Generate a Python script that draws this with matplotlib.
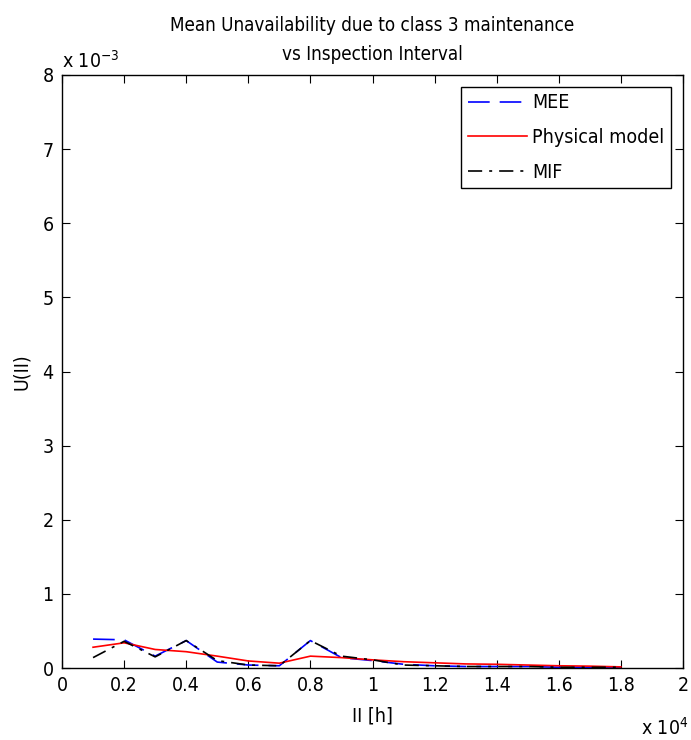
import matplotlib
matplotlib.use("Agg")
import matplotlib.pyplot as plt
from matplotlib.ticker import FuncFormatter, MultipleLocator

plt.rcParams['font.family'] = ['DejaVu Sans']
plt.rcParams['font.stretch'] = 'condensed'

ii = [1000, 2000, 3000, 4000, 5000, 6000, 7000, 8000, 9000, 10000,
      11000, 12000, 13000, 14000, 15000, 16000, 17000, 18000]
mee = [0.39e-3, 0.38e-3, 0.16e-3, 0.37e-3, 0.08e-3, 0.04e-3, 0.03e-3, 0.37e-3, 0.14e-3, 0.10e-3,
       0.05e-3, 0.03e-3, 0.02e-3, 0.02e-3, 0.02e-3, 0.01e-3, 0.01e-3, 0.01e-3]
phys = [0.28e-3, 0.34e-3, 0.25e-3, 0.22e-3, 0.16e-3, 0.095e-3, 0.065e-3, 0.16e-3, 0.14e-3, 0.11e-3,
        0.085e-3, 0.07e-3, 0.055e-3, 0.05e-3, 0.04e-3, 0.03e-3, 0.025e-3, 0.015e-3]
mif = [0.14e-3, 0.36e-3, 0.15e-3, 0.37e-3, 0.10e-3, 0.04e-3, 0.03e-3, 0.37e-3, 0.16e-3, 0.11e-3,
       0.04e-3, 0.03e-3, 0.02e-3, 0.02e-3, 0.02e-3, 0.01e-3, 0.01e-3, 0.01e-3]

fig = plt.figure(figsize=(6.91, 7.40), dpi=100)
ax = fig.add_axes([62/691, 1-668/740, (683-62)/691, (668-75)/740])

ax.plot(ii, mee, color='blue', linestyle=(0, (13, 6)), lw=1.2, label='MEE')
ax.plot(ii, phys, color='red', linestyle='-', lw=1.2, label='Physical model')
ax.plot(ii, mif, color='black', linestyle=(0, (8.5, 4.2, 1.8, 4.2)), lw=1.2, label='MIF')

ax.set_xlim(0, 20000)
ax.set_ylim(0, 8e-3)
ax.xaxis.set_major_locator(MultipleLocator(2000))
ax.yaxis.set_major_locator(MultipleLocator(1e-3))
ax.xaxis.set_major_formatter(FuncFormatter(lambda v, p: f"{v/1e4:g}"))
ax.yaxis.set_major_formatter(FuncFormatter(lambda v, p: f"{v/1e-3:g}"))
ax.tick_params(direction='in', top=True, right=True, labelsize=14, length=6, pad=6)
for s in ax.spines.values():
    s.set_linewidth(1.0)

ax.set_xlabel('II [h]', fontsize=14, labelpad=8)
ax.set_ylabel('U(II)', fontsize=14, labelpad=8)
cx = 0.5 * (62 + 683) / 691
fig.text(cx, 1 - 31/740, 'Mean Unavailability due to class 3 maintenance',
         fontsize=13.5, ha='center', va='baseline')
fig.text(cx, 1 - 60/740, 'vs Inspection Interval',
         fontsize=13.5, ha='center', va='baseline')

fig.text(62/691, 1-68/740, r'x 10$^{-3}$', fontsize=14, ha='left', va='baseline')
fig.text(641/691, 1-735/740, r'x 10$^{4}$', fontsize=14, ha='left', va='baseline')

leg = ax.legend(loc='upper right', fontsize=14, fancybox=False, edgecolor='black',
                framealpha=1, borderaxespad=0.6, handlelength=3.0, labelspacing=0.8,
                borderpad=0.35, handletextpad=0.3)
leg.get_frame().set_linewidth(1.0)

fig.savefig('out.png', dpi=100)
